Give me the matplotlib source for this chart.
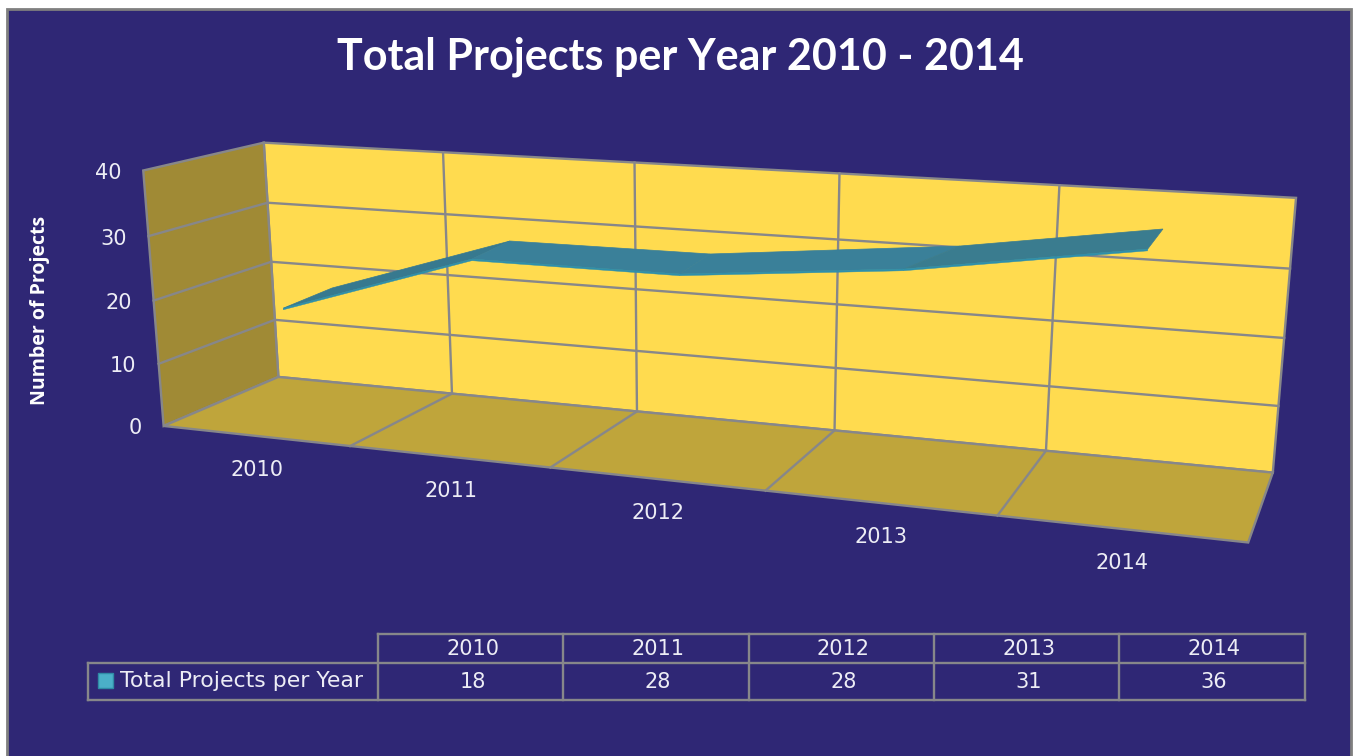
import numpy as np
import matplotlib
matplotlib.use('Agg')
import matplotlib.pyplot as plt
from matplotlib.patches import Polygon, Rectangle

years = ['2010', '2011', '2012', '2013', '2014']
projects = [18, 28, 28, 31, 36]
value_ticks = [0, 10, 20, 30, 40]
series_name = 'Total Projects per Year'
title = 'Total Projects per Year 2010 - 2014'
ylabel = 'Number of Projects'

BG = '#2F2775'
GRID = '#87878A'
TXT = '#EDEDF5'
W, H = 1353, 756

# box corners on the picture: (category pos, value, depth) -> pixel
box_3d = [(0, 0, 0), (5, 0, 0), (0, 40, 0), (0, 0, 1), (5, 0, 1), (0, 40, 1), (5, 40, 1)]
box_px = [(164, 426), (1248, 543), (143, 170), (278, 377), (1273, 472), (264, 143), (1296, 198)]

# ribbon depth inside the box, the back edge is mitred at the bends
depth_front = [0.30, 0.29, 0.29, 0.285, 0.27]
depth_back = [0.786, 0.752, 0.768, 0.873, 0.747]
back_slip = [-0.025, -0.034, -0.037, 0.098, -0.009]
face_colors = ['#37798F', '#3A8099', '#3A8099', '#3A7C8F']


def fit_camera(pts3, pts2):
    rows = []
    rhs = []
    for (a, b, c), (x, y) in zip(pts3, pts2):
        rows.append([a, b, c, 1, 0, 0, 0, 0, -a * x, -b * x, -c * x])
        rows.append([0, 0, 0, 0, a, b, c, 1, -a * y, -b * y, -c * y])
        rhs += [x, y]
    p = np.linalg.lstsq(np.array(rows, float), np.array(rhs, float), rcond=None)[0]
    return np.append(p, 1).reshape(3, 4)


cam = fit_camera(box_3d, box_px)


def proj(a, b, c):
    q = cam @ np.array([a, b, c, 1.0])
    return q[0] / q[2], q[1] / q[2]


fig = plt.figure(figsize=(W / 100, H / 100), dpi=100, facecolor='white')
ax = fig.add_axes([0, 0, 1, 1])
ax.set_xlim(0, W)
ax.set_ylim(H, 0)
ax.axis('off')

ax.add_patch(Rectangle((7, 9), W - 7 - 2, H, fc=BG, ec='#7F7F7F', lw=2))
ax.text(680, 57, title, color='white', fontsize=31, fontweight='bold', family='Lato', ha='center', va='center')

# walls
ax.add_patch(Polygon([proj(0, 0, 1), proj(5, 0, 1), proj(5, 40, 1), proj(0, 40, 1)], fc='#FFDB4F', ec=GRID, lw=1.7))
ax.add_patch(Polygon([proj(0, 0, 0), proj(0, 0, 1), proj(0, 40, 1), proj(0, 40, 0)], fc='#A08A35', ec=GRID, lw=1.7))
ax.add_patch(Polygon([proj(0, 0, 0), proj(5, 0, 0), proj(5, 0, 1), proj(0, 0, 1)], fc='#BFA53B', ec=GRID, lw=1.7))

for v in value_ticks[1:-1]:
    pts = [proj(0, v, 0), proj(0, v, 1), proj(5, v, 1)]
    ax.plot(*zip(*pts), color=GRID, lw=1.7)
for i in range(1, len(years)):
    pts = [proj(i, 0, 0), proj(i, 0, 1), proj(i, 40, 1)]
    ax.plot(*zip(*pts), color=GRID, lw=1.7)

# ribbon, top face then the thin front lip
for i in range(len(years) - 1):
    a, b = i + 0.5, i + 1.5
    va, vb = projects[i], projects[i + 1]
    quad = [proj(a, va, depth_front[i]), proj(b, vb, depth_front[i + 1]),
            proj(b + back_slip[i + 1], vb, depth_back[i + 1]), proj(a + back_slip[i], va, depth_back[i])]
    ax.add_patch(Polygon(quad, fc=face_colors[i], ec=face_colors[i], lw=0.5, zorder=4))
    lip = [proj(a, va, depth_front[i]), proj(b, vb, depth_front[i + 1]),
           proj(b, vb - 0.25, depth_front[i + 1]), proj(a, va - 0.25, depth_front[i])]
    ax.add_patch(Polygon(lip, fc='#2E8FAB', ec='#2E8FAB', lw=0.3, zorder=5))

# tick labels
for v in value_ticks:
    x, y = proj(0, v, 0)
    ax.text(x - 22, y + 2.5, str(v), color=TXT, fontsize=15, ha='right', va='center')
for i, yr in enumerate(years):
    x, y = proj(i + 0.5, 0, 0)
    ax.text(x + 2, y + 34, yr, color=TXT, fontsize=15, ha='center', va='center')
ax.text(40, 310, ylabel, color='white', fontsize=14, fontweight='bold', family='Open Sans', stretch='condensed', rotation=90, ha='center', va='center')

# data table
col_x = [378, 563, 749, 934, 1119, 1305]
ax.plot([378, 1305], [634, 634], color=GRID, lw=1.7)
ax.plot([88, 1305], [663, 663], color=GRID, lw=1.7)
ax.plot([88, 1305], [700, 700], color=GRID, lw=1.7)
ax.plot([88, 88], [663, 700], color=GRID, lw=1.7)
for x in col_x:
    ax.plot([x, x], [634, 700], color=GRID, lw=1.7)
ax.add_patch(Rectangle((98, 673), 15, 15, fc='#4BB0C8', ec='#2F8BA5', lw=1))
ax.text(120, 681, series_name, color=TXT, fontsize=15.8, va='center')
for i, yr in enumerate(years):
    xc = (col_x[i] + col_x[i + 1]) / 2
    ax.text(xc + 2, 649, yr, color=TXT, fontsize=15, ha='center', va='center')
    ax.text(xc + 2, 682, str(projects[i]), color=TXT, fontsize=15, ha='center', va='center')

fig.savefig('out.png', dpi=100, facecolor='white')
